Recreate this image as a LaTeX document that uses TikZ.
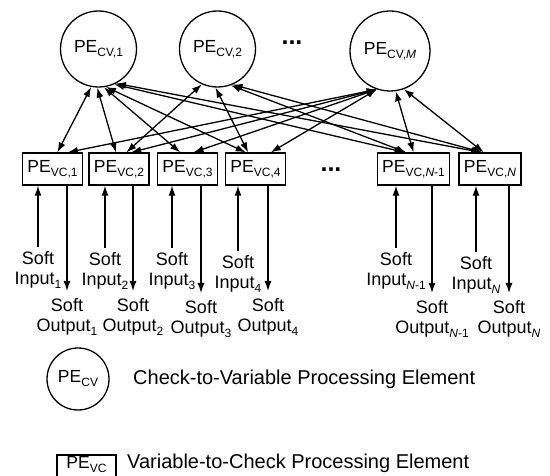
\documentclass[tikz,border=0pt]{standalone}
\usepackage{fontspec}
\setmainfont{Liberation Sans}
\usetikzlibrary{arrows.meta,calc}
\newcommand{\sbs}[1]{\raisebox{-4pt}{\fontsize{12}{12}\selectfont #1}}
\begin{document}
\begin{tikzpicture}[x=1pt,y=-1pt,
  every node/.style={font=\fontsize{17.5}{20}\selectfont},
  cvnode/.style={draw, circle, line width=1.3pt, minimum size=76pt, inner sep=0pt},
  vcnode/.style={draw, rectangle, line width=1.3pt, minimum height=32pt, inner xsep=5pt, inner ysep=0pt},
  link/.style={line width=1.3pt, {Latex[length=10pt,width=7pt]}-{Latex[length=10pt,width=7pt]}},
  io/.style={line width=1.3pt, -{Latex[length=10pt,width=7pt]}},
  lbl/.style={align=center, inner sep=0pt, anchor=north, font=\fontsize{18}{20}\selectfont},
  legend/.style={anchor=west, inner sep=0pt, font=\fontsize{20}{24}\selectfont},
  dots/.style={inner sep=0pt, font=\fontsize{25}{25}\selectfont\bfseries}
]
\useasboundingbox (0,0) rectangle (550,476);

% check-to-variable elements
\node[cvnode] (cv1) at (98.5,49) {PE\sbs{CV,1}};
\node[cvnode] (cv2) at (217.5,49) {PE\sbs{CV,2}};
\node[cvnode, minimum size=80pt] (cvm) at (390,51) {PE\sbs{CV,\textit{M}}};
\node[dots] (dtop) at (292,43) {...};

% variable-to-check elements
\node[vcnode] (vc1) at (52.5,169) {PE\sbs{VC,1}};
\node[vcnode] (vc2) at (119,169) {PE\sbs{VC,2}};
\node[vcnode] (vc3) at (187.5,169) {PE\sbs{VC,3}};
\node[vcnode] (vc4) at (255.5,169) {PE\sbs{VC,4}};
\node[dots] (dbot) at (331,170) {...};
\node[vcnode] (vcn1) at (413.5,169) {PE\sbs{VC,\textit{N}-1}};
\node[vcnode] (vcn) at (490,169) {PE\sbs{VC,\textit{N}}};

% links
\draw[link] (cv1.-101) -- ($(vc1.north west)!0.58!(vc1.north east)$);
\draw[link] (cv1.-92) -- ($(vc2.north west)!0.45!(vc2.north east)$);
\draw[link] (cv1.-82) -- ($(vc3.north west)!0.38!(vc3.north east)$);
\draw[link] (cv1.-79) -- ($(vc4.north west)!0.34!(vc4.north east)$);
\draw[link] (cv1.-66) -- ($(vcn1.north west)!0.38!(vcn1.north east)$);
\draw[link] (cv1.-63) -- ($(vcn.north west)!0.36!(vcn.north east)$);

\draw[link] (cv2.-114) -- ($(vc2.north west)!0.62!(vc2.north east)$);
\draw[link] (cv2.-93) -- ($(vc4.north west)!0.38!(vc4.north east)$);
\draw[link] (cv2.-70) -- ($(vcn1.north west)!0.4!(vcn1.north east)$);
\draw[link] (cv2.-67) -- ($(vcn.north west)!0.38!(vcn.north east)$);

\draw[link] (cvm.-109) -- ($(vc1.north west)!0.75!(vc1.north east)$);
\draw[link] (cvm.-109) -- ($(vc2.north west)!0.7!(vc2.north east)$);
\draw[link] (cvm.-109) -- ($(vc3.north west)!0.6!(vc3.north east)$);
\draw[link] (cvm.-109) -- ($(vc4.north west)!0.75!(vc4.north east)$);
\draw[link] (cvm.-82) -- ($(vcn1.north west)!0.5!(vcn1.north east)$);
\draw[link] (cvm.-70) -- ($(vcn.north west)!0.4!(vcn.north east)$);

% soft inputs / outputs
\node[lbl] (in1) at (38,251) {Soft\\Input\sbs{1}};
\node[lbl] (out1) at (67,298) {Soft\\Output\sbs{1}};
\node[lbl] (in2) at (105,252) {Soft\\Input\sbs{2}};
\node[lbl] (out2) at (133,298) {Soft\\Output\sbs{2}};
\node[lbl] (in3) at (172,252) {Soft\\Input\sbs{3}};
\node[lbl] (out3) at (201,300) {Soft\\Output\sbs{3}};
\node[lbl] (in4) at (238,255) {Soft\\Input\sbs{4}};
\node[lbl] (out4) at (268,298) {Soft\\Output\sbs{4}};
\node[lbl] (inn1) at (396,252) {Soft\\Input\sbs{\textit{N}-1}};
\node[lbl] (outn1) at (432,300) {Soft\\Output\sbs{\textit{N}-1}};
\node[lbl] (inn) at (476,256) {Soft\\Input\sbs{\textit{N}}};
\node[lbl] (outn) at (509,300) {Soft\\Output\sbs{\textit{N}}};

\foreach \i/\b in {in1/vc1,in2/vc2,in3/vc3,in4/vc4,inn1/vcn1,inn/vcn}{
  \draw[io] ($(\i.north)+(0,-4)$) -- (\i.north |- \b.south);
}
\foreach \o/\b in {out1/vc1,out2/vc2,out3/vc3,out4/vc4,outn1/vcn1,outn/vcn}{
  \draw[io] (\o.north |- \b.south) -- ($(\o.north)+(0,-7)$);
}

% legend
\node[cvnode, minimum size=62pt] (lgcv) at (78,379) {PE\sbs{CV}};
\node[legend] (lgcvt) at (133,379) {Check-to-Variable Processing Element};
\node[draw, line width=1.3pt, minimum width=59pt, inner xsep=5pt, inner ysep=3pt,
      text height=10pt, text depth=25pt, anchor=base] (lgvc) at (86.5,468) {PE\sbs{VC}};
\node[legend] (lgvct) at (127,463) {Variable-to-Check Processing Element};
\end{tikzpicture}
\end{document}
